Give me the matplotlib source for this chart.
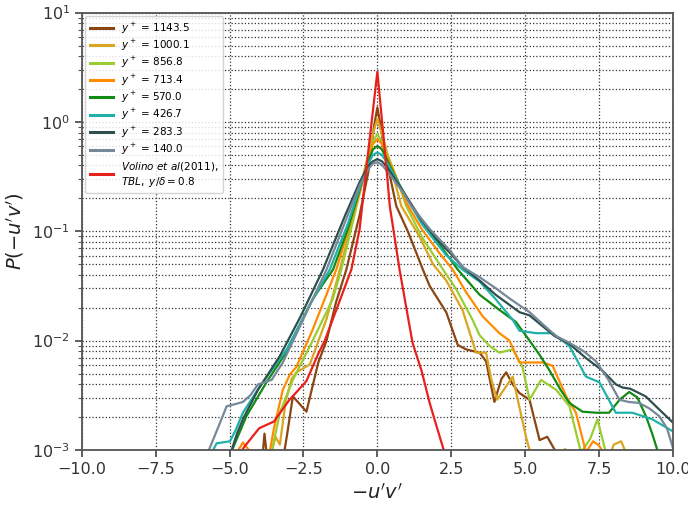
import numpy as np
import matplotlib
matplotlib.use("Agg")
import matplotlib.pyplot as plt
from matplotlib.ticker import LogLocator, NullLocator

# PDF estimates P(-u'v') at several wall-normal heights
x_1143 = [-3.9, -3.82, -3.72, -3.2, -3.05, -2.86, -2.4, -2.0, -1.72, -1.4, -1.05, -0.6, -0.3, -0.12, 0.0, 0.12,
          0.25, 0.47, 0.64, 1.03, 1.54, 1.77, 2.33, 2.72, 3.0, 3.46, 3.68, 3.96, 4.2, 4.36, 4.58, 4.81, 5.15,
          5.49, 5.75, 6.05]
p_1143 = [0.00079, 0.00141, 0.00079, 0.00079, 0.00141, 0.00309, 0.00224, 0.00631, 0.01, 0.0224, 0.0447, 0.141,
          0.355, 0.891, 1.36, 0.891, 0.501, 0.282, 0.17, 0.1, 0.0447, 0.0316, 0.0182, 0.00912, 0.00832, 0.00776,
          0.00646, 0.00275, 0.00447, 0.00513, 0.00398, 0.00331, 0.00288, 0.00123, 0.00132, 0.00095]

x_1000 = [-3.6, -3.45, -3.3, -3.1, -2.9, -2.74, -2.29, -1.72, -1.27, -0.8, -0.4, -0.12, 0.0, 0.12, 0.3, 0.81,
          1.43, 1.88, 2.33, 2.88, 3.34, 3.68, 3.85, 4.05, 4.58, 4.8, 5.03, 5.2, 6.0, 6.35, 6.5, 7.8, 8.0, 8.25, 8.45]
p_1000 = [0.00089, 0.00132, 0.00112, 0.00282, 0.00447, 0.00513, 0.00603, 0.0158, 0.0447, 0.141, 0.398, 0.832,
          1.07, 0.832, 0.562, 0.17, 0.0891, 0.0501, 0.0355, 0.0191, 0.00776, 0.00776, 0.00447, 0.00288, 0.00468,
          0.00251, 0.00132, 0.00089, 0.00079, 0.00102, 0.00079, 0.00079, 0.00112, 0.0012, 0.00089]

x_857 = [-3.6, -3.3, -2.86, -2.19, -1.51, -1.22, -0.8, -0.4, -0.15, 0.0, 0.15, 0.3, 0.58, 0.98, 1.5, 2.22, 2.67,
         3.22, 3.46, 3.8, 4.13, 4.58, 4.91, 5.15, 5.54, 6.05, 6.5, 6.89, 7.2, 7.45, 7.73]
p_857 = [0.00089, 0.00219, 0.00437, 0.01, 0.024, 0.0447, 0.132, 0.38, 0.661, 0.776, 0.661, 0.537, 0.347, 0.17,
         0.0891, 0.0447, 0.0295, 0.0155, 0.0112, 0.00891, 0.00776, 0.00832, 0.00575, 0.00288, 0.00437, 0.00355,
         0.00251, 0.00095, 0.00126, 0.00191, 0.00095]

x_713 = [-4.75, -4.55, -4.35, -4.2, -3.7, -3.5, -3.2, -2.96, -2.74, -2.19, -1.39, -1.0, -0.6, -0.3, -0.15, 0.0,
         0.15, 0.3, 0.6, 1.0, 1.5, 2.1, 2.55, 3.01, 3.57, 4.13, 4.47, 4.81, 5.6, 5.93, 6.39, 6.72, 7.06, 7.3, 7.5, 7.7]
p_713 = [0.00095, 0.00117, 0.001, 0.00079, 0.00079, 0.00158, 0.00355, 0.0049, 0.00575, 0.0126, 0.0447, 0.1,
         0.224, 0.479, 0.631, 0.692, 0.631, 0.501, 0.331, 0.178, 0.105, 0.0631, 0.0447, 0.0275, 0.0166, 0.0117,
         0.01, 0.00631, 0.00631, 0.00589, 0.00309, 0.00219, 0.00095, 0.0012, 0.0011, 0.00089]

x_570 = [-4.95, -4.43, -3.75, -3.07, -2.19, -1.5, -1.0, -0.6, -0.3, -0.15, 0.0, 0.15, 0.3, 0.6, 1.15, 1.65, 2.1,
         2.72, 3.46, 4.13, 4.69, 5.15, 5.49, 5.82, 6.2, 6.5, 6.94, 7.4, 7.84, 8.2, 8.52, 8.8, 9.1, 9.3, 9.5]
p_570 = [0.00095, 0.00204, 0.00417, 0.00794, 0.024, 0.0447, 0.105, 0.24, 0.447, 0.562, 0.603, 0.562, 0.468,
         0.316, 0.17, 0.112, 0.0759, 0.0447, 0.0263, 0.0191, 0.0148, 0.01, 0.00741, 0.00537, 0.00355, 0.00269,
         0.00224, 0.00219, 0.00219, 0.00288, 0.00339, 0.00302, 0.002, 0.00141, 0.00095]

x_427 = [-5.6, -5.44, -4.99, -4.8, -4.55, -3.98, -3.07, -2.3, -1.61, -1.0, -0.6, -0.3, -0.15, 0.0, 0.15, 0.3,
         0.86, 1.5, 2.33, 2.88, 3.46, 4.0, 4.58, 4.81, 5.37, 5.93, 6.5, 7.06, 7.51, 8.07, 8.63, 9.3, 10.0]
p_427 = [0.00095, 0.00115, 0.0012, 0.00151, 0.00219, 0.0038, 0.00832, 0.0209, 0.0447, 0.117, 0.251, 0.417,
         0.501, 0.525, 0.501, 0.437, 0.234, 0.117, 0.0603, 0.0447, 0.0347, 0.024, 0.0155, 0.0123, 0.0117, 0.0117,
         0.00891, 0.00468, 0.00417, 0.00219, 0.00219, 0.00191, 0.00148]

x_283 = [-4.93, -4.75, -4.55, -4.04, -3.3, -2.6, -1.84, -1.1, -0.6, -0.3, -0.15, 0.0, 0.15, 0.3, 0.86, 1.5, 2.0,
         2.5, 2.9, 3.5, 4.0, 4.81, 5.15, 5.6, 6.0, 6.5, 7.06, 7.6, 8.07, 8.3, 8.56, 9.08, 9.5, 10.0]
p_283 = [0.001, 0.00141, 0.00191, 0.00355, 0.00724, 0.0166, 0.0447, 0.138, 0.282, 0.398, 0.437, 0.457, 0.437,
         0.398, 0.234, 0.126, 0.0851, 0.0617, 0.0468, 0.0347, 0.0263, 0.0182, 0.017, 0.0135, 0.011, 0.00933,
         0.00692, 0.00537, 0.00398, 0.00372, 0.00363, 0.00309, 0.0024, 0.00178]

x_140 = [-5.7, -5.4, -5.1, -4.8, -4.55, -4.3, -4.04, -3.8, -3.58, -3.2, -2.62, -1.72, -1.0, -0.6, -0.3, -0.15,
         0.0, 0.15, 0.36, 0.86, 1.15, 1.77, 2.44, 2.9, 3.46, 4.0, 4.5, 5.15, 5.6, 6.05, 6.5, 7.0, 7.4, 7.8, 8.19,
         8.5, 8.86, 9.2, 9.54, 9.8, 10.0]
p_140 = [0.001, 0.00158, 0.00251, 0.00263, 0.00275, 0.00316, 0.00398, 0.00417, 0.00437, 0.00631, 0.0135, 0.0447,
         0.141, 0.263, 0.372, 0.417, 0.427, 0.407, 0.347, 0.229, 0.17, 0.105, 0.0676, 0.0468, 0.038, 0.0302, 0.024,
         0.0182, 0.0141, 0.011, 0.00955, 0.00794, 0.00646, 0.00447, 0.00288, 0.00275, 0.00269, 0.0024, 0.00204,
         0.00158, 0.00105]

# reference TBL data
x_volino = [-4.7, -4.5, -4.0, -3.5, -3.0, -2.4, -2.0, -1.78, -1.39, -0.88, -0.6, -0.3, 0.0, 0.3, 0.42, 0.75,
            1.19, 1.5, 1.77, 2.0, 2.27]
p_volino = [0.00089, 0.00107, 0.00158, 0.00182, 0.00282, 0.00427, 0.00759, 0.01, 0.0191, 0.0447, 0.105, 0.562,
            2.88, 0.398, 0.17, 0.0447, 0.00955, 0.00525, 0.00269, 0.00166, 0.00095]

yplus = ["1143.5", "1000.1", "856.8", "713.4", "570.0", "426.7", "283.3", "140.0"]
colors = ["#8b4513", "#daa520", "#9acd32", "#ff8c00", "#138a13", "#20b2aa", "#2f4f4f", "#778899"]
series = [(x_1143, p_1143), (x_1000, p_1000), (x_857, p_857), (x_713, p_713),
          (x_570, p_570), (x_427, p_427), (x_283, p_283), (x_140, p_140)]

fig = plt.figure(figsize=(6.88, 5.05), dpi=100)
ax = fig.add_axes([0.119, 0.109, 0.859, 0.866])

for (xs, ps), yp, c in zip(series, yplus, colors):
    ax.plot(xs, ps, color=c, lw=1.6, label=r"$y^+$ = " + yp)
ax.plot(x_volino, p_volino, color="#e8201c", lw=1.6,
        label="$Volino\\ et\\ al(2011),$\n$TBL,\\ y/\\delta = 0.8$")

ax.set_yscale("log")
ax.set_xlim(-10, 10)
ax.set_ylim(1e-3, 10)
ax.set_xticks(np.arange(-10, 10.1, 2.5))
ax.xaxis.set_minor_locator(NullLocator())
ax.yaxis.set_minor_locator(LogLocator(base=10, subs=np.arange(2, 10), numticks=20))

ax.grid(True, which="major", ls=":", color="#333333", lw=0.9)
ax.yaxis.grid(True, which="minor", ls=":", color="#333333", lw=0.9)

for s in ax.spines.values():
    s.set_color("#555555")
    s.set_linewidth(1.3)
ax.tick_params(which="major", labelsize=11.5, colors="#333333", length=5, width=1.1)
ax.tick_params(which="minor", colors="#555555", length=3, width=0.8)

ax.set_xlabel(r"$-u'v'$", fontsize=14, color="#222222")
ax.set_ylabel(r"$P(-u'v')$", fontsize=14, color="#222222")

leg = ax.legend(loc="upper left", fontsize=7.5, handlelength=2.2, labelspacing=0.22,
                framealpha=0.85, borderaxespad=0.3, borderpad=0.45)
leg.get_frame().set_edgecolor("#cccccc")
for line in leg.get_lines():
    line.set_linewidth(2.2)

fig.savefig("out.png", dpi=100)
